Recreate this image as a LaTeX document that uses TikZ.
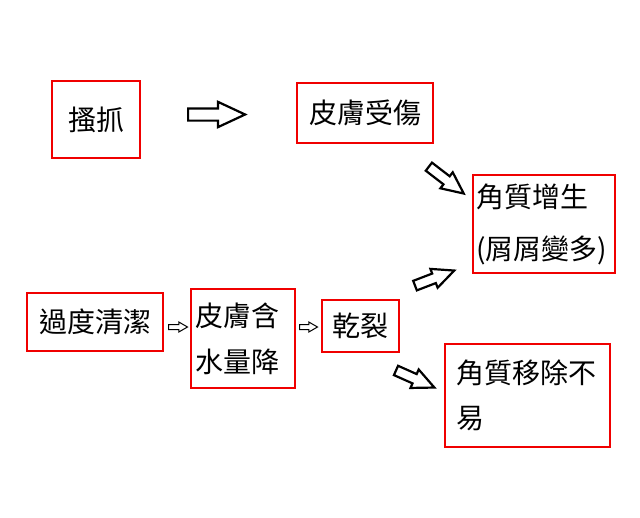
\documentclass[tikz,border=0pt]{standalone}
\usepackage{fontspec}
\setmainfont{Noto Sans CJK TC}
\usetikzlibrary{shapes.arrows}
\definecolor{boxred}{RGB}{240,0,0}

\begin{document}
\begin{tikzpicture}[x=1pt, y=-1pt,
    box/.style={rectangle, draw=boxred, line width=2.8pt, inner sep=0pt,
                align=left, font=\fontsize{28}{28}\selectfont},
    bigarrow/.style={single arrow, draw, fill=white, line width=2.2pt,
                inner xsep=0pt, inner ysep=4pt, minimum width=0pt,
                single arrow head extend=5pt, single arrow tip angle=50,
                minimum height=42pt, anchor=tail},
    smallarrow/.style={single arrow, draw, fill=white, line width=1pt,
                inner xsep=0pt, inner ysep=2pt, minimum width=0pt,
                single arrow head extend=2.5pt, single arrow tip angle=60,
                minimum height=19pt, anchor=tail}]

\useasboundingbox (0,0) rectangle (640,517);

% upper row
\node[box, minimum width=88pt, minimum height=77pt] (scratch) at (96,119.5) {搔抓};
\node[box, minimum width=136pt, minimum height=60pt] (hurt) at (365,113) {皮膚受傷};

% lower row
\node[box, minimum width=136pt, minimum height=58pt] (clean) at (95,322) {過度清潔};
\node[box, text width=96pt, inner xsep=4pt, minimum height=99pt,
      font=\fontsize{28}{46}\selectfont] (moist) at (243,338.5) {皮膚含\\水量降};
\node[box, minimum width=77pt, minimum height=52pt] (crack) at (360.5,326) {乾裂};

% results
\node[box, text width=136pt, inner xsep=3pt, minimum height=98pt,
      font=\fontsize{28}{52}\selectfont] (hyper) at (544,224) {角質增生\\(屑屑變多)};
\node[box, text width=143pt, inner xsep=11pt, minimum height=103pt,
      font=\fontsize{28}{45}\selectfont] (shed) at (527.5,395.5) {角質移除不\\易};

% block arrows
\node[bigarrow, minimum height=57pt, inner ysep=5pt,
      single arrow head extend=6.5pt] (a1) at (187,114.5) {};
\node[bigarrow, rotate=-37.6, minimum height=44pt] (a2) at (428,166) {};
\node[bigarrow, rotate=21, minimum height=42pt] (a3) at (414,286) {};
\node[bigarrow, rotate=-24, minimum height=42pt] (a4) at (395,370) {};
\node[smallarrow] (a5) at (168,327) {};
\node[smallarrow, minimum height=18pt] (a6) at (299,327) {};

\end{tikzpicture}
\end{document}
